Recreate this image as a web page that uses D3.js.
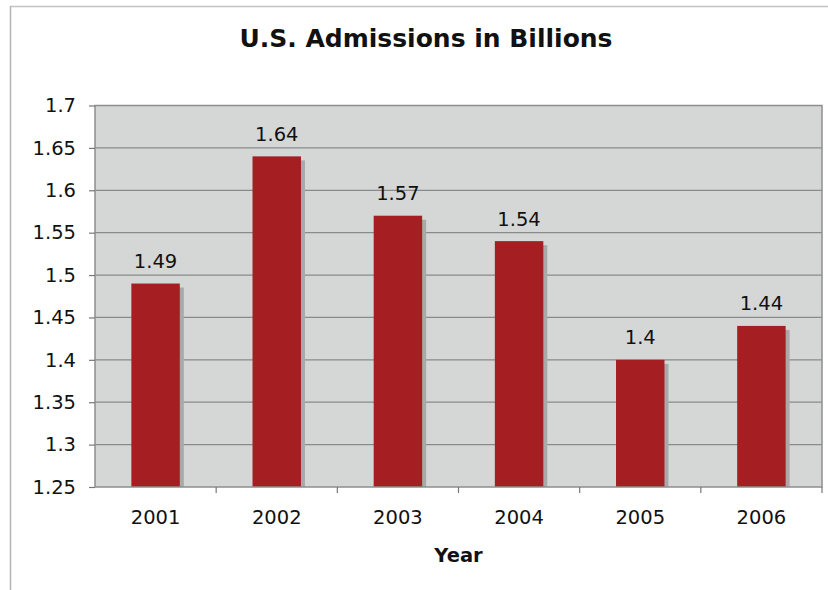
<!DOCTYPE html>
<html>
<head>
<meta charset="utf-8">
<script src="https://cdn.jsdelivr.net/npm/d3@7"></script>
<style>
  body { margin: 0; background: #fff; }
  text { font-family: "DejaVu Sans", Verdana, sans-serif; fill: #111; }
</style>
</head>
<body>
<svg class="chart" width="828" height="590"></svg>
<script>
var years = ["2001", "2002", "2003", "2004", "2005", "2006"];
var admissions = [1.49, 1.64, 1.57, 1.54, 1.4, 1.44];
var yTicks = [1.25, 1.3, 1.35, 1.4, 1.45, 1.5, 1.55, 1.6, 1.65, 1.7];

var svg = d3.select(".chart");
var plotLeft = 95, plotRight = 822, plotTop = 105.5, plotBottom = 487;

// outer frame (only top + left edges show)
svg.append("line").attr("x1", 10).attr("x2", 828).attr("y1", 6.5).attr("y2", 6.5)
  .style("stroke", "#c4c4c4").style("stroke-width", 1.5);
svg.append("line").attr("x1", 10.5).attr("x2", 10.5).attr("y1", 6).attr("y2", 590)
  .style("stroke", "#b4b4b4").style("stroke-width", 1.5);

var x = d3.scaleBand().domain(years).range([plotLeft, plotRight]).paddingInner(0.6).paddingOuter(0.3);
var xb = d3.scaleBand().domain(years).range([plotLeft, plotRight]);
var y = d3.scaleLinear().domain([1.25, 1.7]).range([plotBottom, plotTop]);

svg.append("rect").attr("x", plotLeft).attr("y", plotTop)
  .attr("width", plotRight - plotLeft).attr("height", plotBottom - plotTop)
  .style("fill", "#d5d6d6");

// gridlines
svg.append("g").selectAll("line").data(yTicks.slice(1)).enter().append("line")
  .attr("x1", plotLeft).attr("x2", plotRight)
  .attr("y1", function(d) { return y(d); }).attr("y2", function(d) { return y(d); })
  .style("stroke", "#8a8a8a").style("stroke-width", 1.2);

// bar shadows
svg.append("g").selectAll("rect").data(admissions).enter().append("rect")
  .attr("x", function(d, i) { return x(years[i]) + 4; })
  .attr("y", function(d) { return y(d) + 4; })
  .attr("width", x.bandwidth())
  .attr("height", function(d) { return plotBottom - y(d) - 4; })
  .style("fill", "#a9a9a9");

svg.append("g").selectAll("rect").data(admissions).enter().append("rect")
  .attr("x", function(d, i) { return x(years[i]); })
  .attr("y", function(d) { return y(d); })
  .attr("width", x.bandwidth())
  .attr("height", function(d) { return plotBottom - y(d); })
  .style("fill", "#a51f22");

// plot border
svg.append("rect").attr("x", plotLeft).attr("y", plotTop)
  .attr("width", plotRight - plotLeft).attr("height", plotBottom - plotTop)
  .style("fill", "none").style("stroke", "#8e8e8e").style("stroke-width", 1.5);

// value labels
svg.append("g").selectAll("text").data(admissions).enter().append("text")
  .attr("x", function(d, i) { return x(years[i]) + x.bandwidth() / 2; })
  .attr("y", function(d) { return y(d) - 15.5; })
  .attr("text-anchor", "middle")
  .style("font-size", "19.5px")
  .text(function(d) { return d; });

// y axis
var yAxis = svg.append("g").attr("transform", "translate(" + plotLeft + ",0)")
  .call(d3.axisLeft(y).tickValues(yTicks).tickSize(6).tickPadding(13)
    .tickFormat(function(d) { return String(+d.toFixed(2)); }));
yAxis.select(".domain").remove();
yAxis.selectAll("line").style("stroke", "#777").style("stroke-width", 1.2);
yAxis.selectAll("text").style("font-size", "19.5px").style("fill", "#111")
  .style("font-family", "DejaVu Sans, sans-serif");

// x axis
var xAxis = svg.append("g").attr("transform", "translate(0," + plotBottom + ")")
  .call(d3.axisBottom(xb).tickSize(0).tickPadding(23));
xAxis.select(".domain").remove();
xAxis.selectAll("text").style("font-size", "19.5px").style("fill", "#111")
  .style("font-family", "DejaVu Sans, sans-serif");
svg.append("g").selectAll("line").data(years).enter().append("line")
  .attr("x1", function(d) { return xb(d) + xb.bandwidth(); })
  .attr("x2", function(d) { return xb(d) + xb.bandwidth(); })
  .attr("y1", plotBottom).attr("y2", plotBottom + 6)
  .style("stroke", "#777").style("stroke-width", 1.2);

svg.append("text").attr("x", (plotLeft + plotRight) / 2).attr("y", 562)
  .attr("text-anchor", "middle").style("font-size", "19.5px").style("font-weight", "bold")
  .text("Year");

svg.append("text").attr("x", 426).attr("y", 47)
  .attr("text-anchor", "middle").style("font-size", "25px").style("font-weight", "bold")
  .text("U.S. Admissions in Billions");
</script>
</body>
</html>
